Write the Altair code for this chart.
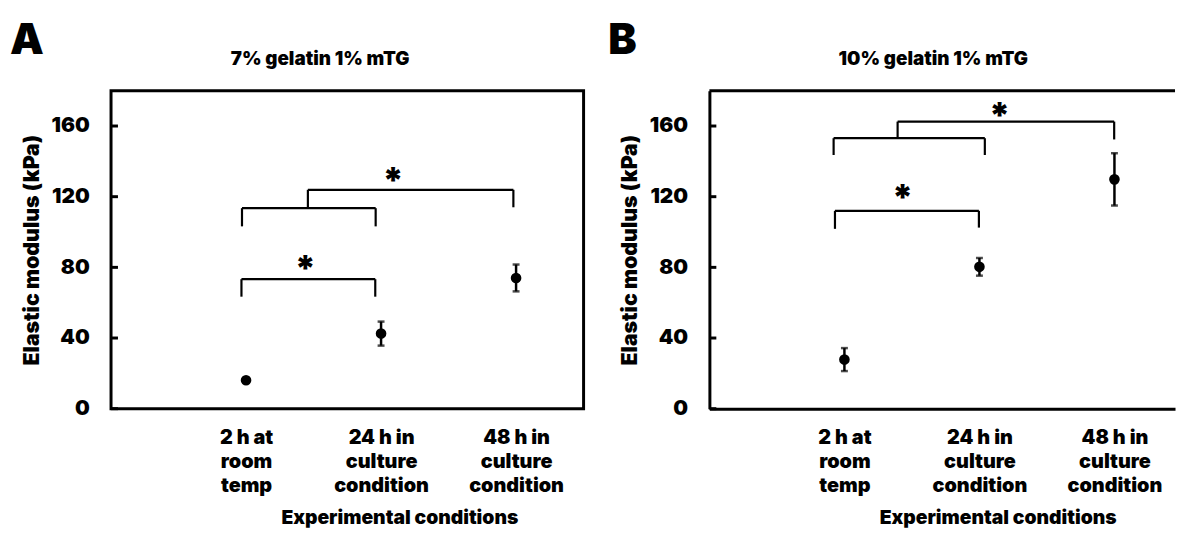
import json
import altair as alt
import pandas as pd

# ---------------- data ----------------
conditions = [1, 2, 3]
condition_labels = [["2 h at", "room", "temp"],
                    ["24 h in", "culture", "condition"],
                    ["48 h in", "culture", "condition"]]
y_ticks = [0, 40, 80, 120, 160]

a_title = "7% gelatin 1% mTG"
a_mean = [16.1, 42.5, 74.0]
a_err = [0.0, 6.8, 7.6]

b_title = "10% gelatin 1% mTG"
b_mean = [27.8, 80.3, 129.8]
b_err = [6.5, 5.0, 14.8]

# significance brackets: left x, right x, bar level, left foot, right foot
a_br_left = [0.966, 0.97, 1.458]
a_br_right = [1.957, 1.96, 2.98]
a_br_bar = [73.3, 113.5, 123.9]
a_br_foot_left = [63.4, 103.2, 113.5]
a_br_foot_right = [63.4, 103.2, 114.0]
a_star_x = [1.44, 2.09]
a_star_y = [83.0, 132.5]

b_br_left = [0.93, 0.92, 1.394]
b_br_right = [1.996, 2.04, 2.998]
b_br_bar = [112.0, 153.1, 162.5]
b_br_foot_left = [101.8, 143.6, 153.1]
b_br_foot_right = [102.5, 143.6, 152.4]
b_star_x = [1.43, 2.15]
b_star_y = [123.2, 169.7]

# ---------------- style ----------------
FONT = "Inter"
WEIGHT = 900
INK = "black"
HEIGHT = 321

label_expr = " : ".join(
    f"datum.value == {c} ? {json.dumps(l)}" for c, l in zip(conditions, condition_labels)
) + " : ''"


def panel(letter, title, title_x, mean, err, brl, brr, brb, bfl, bfr, sx, sy, width, xmax, framed):
    pts = pd.DataFrame({
        "cond": conditions,
        "mean": mean,
        "lo": [m - e for m, e in zip(mean, err)],
        "hi": [m + e for m, e in zip(mean, err)],
        "err": err,
    })
    bars = pts[pts["err"] > 0]

    seg = {"x": [], "x2": [], "y": [], "y2": []}
    for xl, xr, b, fl, fr in zip(brl, brr, brb, bfl, bfr):
        seg["x"] += [xl, xl, xr]
        seg["x2"] += [xl, xr, xr]
        seg["y"] += [fl, b, fr]
        seg["y2"] += [b, b, b]
    segs = pd.DataFrame(seg)
    stars = pd.DataFrame({"x": sx, "y": sy})

    xs = alt.Scale(domain=[0, xmax], nice=False, zero=False)
    ys = alt.Scale(domain=[0, 180], nice=False)
    x_axis = alt.Axis(
        values=conditions, labelExpr=label_expr, ticks=False, grid=False,
        domain=not framed, domainWidth=3, domainColor=INK,
        labelFont=FONT, labelFontSize=20, labelFontWeight=WEIGHT, labelColor=INK,
        labelLineHeight=24.5, labelPadding=19, labelFlush=False, labelOverlap=False,
        title="Experimental conditions", titleX=291, titleY=116,
        titleBaseline="alphabetic", titleAlign="center",
        titleFont=FONT, titleFontSize=19.5, titleFontWeight=WEIGHT, titleColor=INK,
    )
    y_axis = alt.Axis(
        values=y_ticks, ticks=False, grid=False,
        domain=not framed, domainWidth=3, domainColor=INK,
        labelFont=FONT, labelFontSize=21, labelFontWeight=WEIGHT, labelColor=INK,
        labelPadding=22,
        title="Elastic modulus (kPa)", titleFont=FONT, titleFontSize=21.5,
        titleFontWeight=WEIGHT, titleColor=INK, titlePadding=8,
    )

    def X(f):
        return alt.X(f, type="quantitative", scale=xs, axis=x_axis)

    def Y(f):
        return alt.Y(f, type="quantitative", scale=ys, axis=y_axis)

    points = alt.Chart(pts).mark_circle(size=115, color=INK, opacity=1).encode(
        x=X("cond"), y=Y("mean"))
    ebar = alt.Chart(bars).mark_rule(color=INK, strokeWidth=2.5).encode(
        x=X("cond"), y=Y("lo"), y2="hi")
    cap_lo = alt.Chart(bars).mark_tick(color=INK, orient="horizontal", size=7, thickness=2.5).encode(
        x=X("cond"), y=Y("lo"))
    cap_hi = alt.Chart(bars).mark_tick(color=INK, orient="horizontal", size=7, thickness=2.5).encode(
        x=X("cond"), y=Y("hi"))
    brackets = alt.Chart(segs).mark_rule(color=INK, strokeWidth=2.2).encode(
        x=X("x"), x2="x2", y=Y("y"), y2="y2")
    star = alt.Chart(stars).mark_text(
        text="*", font=FONT, fontSize=36, fontWeight=WEIGHT, color=INK,
        align="center", baseline="alphabetic", dy=19,
    ).encode(x=X("x"), y=Y("y"))
    ticks = alt.Chart(pd.DataFrame({"v": y_ticks})).mark_rule(color=INK, strokeWidth=3).encode(
        x=alt.value(0), x2=alt.value(7), y=Y("v"))
    head = alt.Chart(pd.DataFrame({"t": [title]})).mark_text(
        font=FONT, fontSize=19, fontWeight=WEIGHT, color=INK, align="center", baseline="alphabetic",
    ).encode(x=alt.value(title_x), y=alt.value(-26), text="t:N")
    tag = alt.Chart(pd.DataFrame({"t": [letter]})).mark_text(
        font=FONT, fontSize=43, fontWeight=WEIGHT, color=INK, align="left", baseline="top",
    ).encode(x=alt.value(-102), y=alt.value(-71), text="t:N")

    layers = [ticks, brackets, star, ebar, cap_lo, cap_hi, points, head, tag]
    if not framed:
        top = alt.Chart(pd.DataFrame({"t": [0]})).mark_rule(color=INK, strokeWidth=3).encode(
            x=alt.value(0), x2=alt.value(width), y=alt.value(0))
        layers.append(top)
    ch = alt.layer(*layers).properties(width=width, height=HEIGHT)
    if framed:
        ch = ch.properties(view=alt.ViewBackground(stroke=INK, strokeWidth=3, fill="white"))
    return ch


pa = panel("A", a_title, 211, a_mean, a_err, a_br_left, a_br_right, a_br_bar,
           a_br_foot_left, a_br_foot_right, a_star_x, a_star_y, 477, 3.5, True)
pb = panel("B", b_title, 226, b_mean, b_err, b_br_left, b_br_right, b_br_bar,
           b_br_foot_left, b_br_foot_right, b_star_x, b_star_y, 470, 470 / 477 * 3.5, False)

chart = alt.hconcat(pa, pb, spacing=127, bounds="flush").properties(
    padding={"left": 0, "top": 8, "right": 0, "bottom": 0}, background="white"
).configure_view(stroke=None)

chart.save("out.html", embed_options={"renderer": "svg", "actions": False})
